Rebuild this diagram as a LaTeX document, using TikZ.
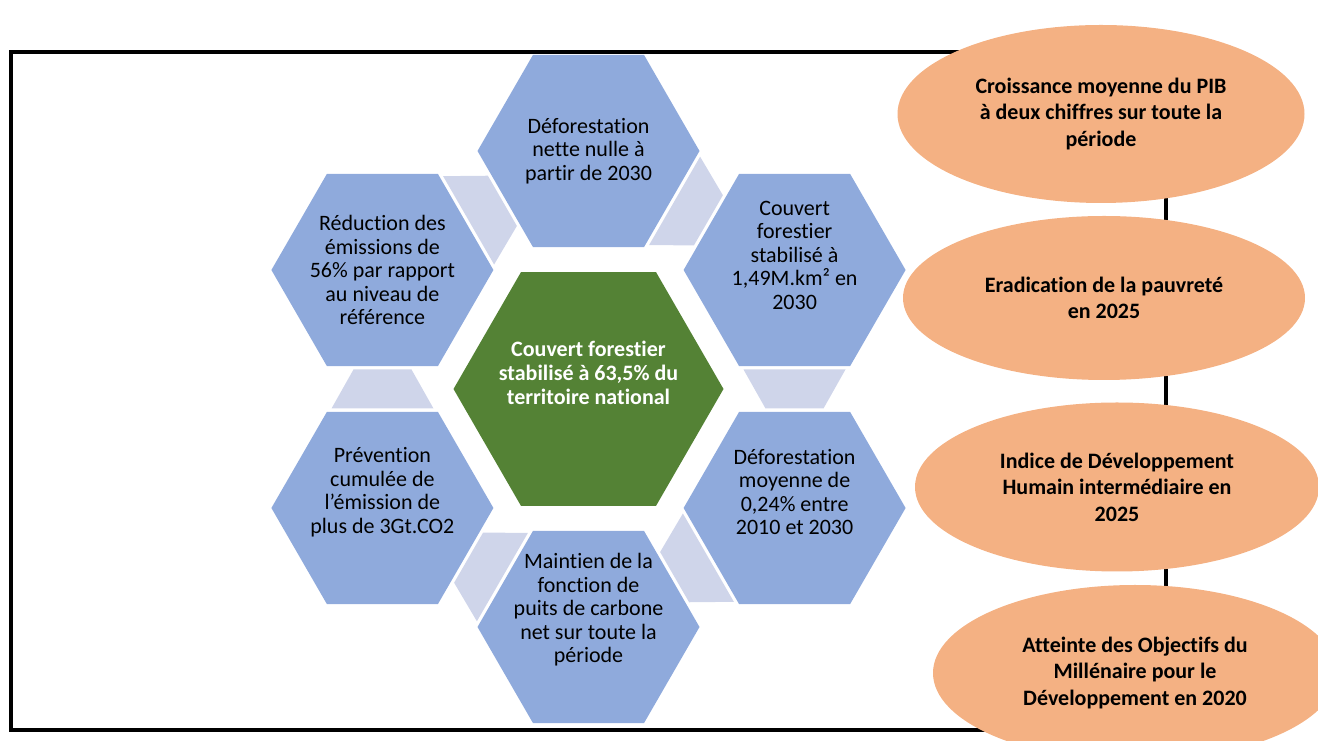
\documentclass[tikz,border=0pt]{standalone}
\usepackage{fontspec}
\setmainfont{Carlito}[Ligatures={NoCommon}]
\usetikzlibrary{shapes.geometric}
\definecolor{hexblue}{HTML}{8FAADC}
\definecolor{linkgray}{HTML}{CFD5EA}
\definecolor{coregreen}{HTML}{548235}
\definecolor{goalorange}{HTML}{F4B183}

\begin{document}
\begin{tikzpicture}[x=1pt,y=1pt,
  hexa/.style={regular polygon,regular polygon sides=6,minimum size=222pt,inner sep=0pt,outer sep=0pt,fill=hexblue},
  hexcore/.style={regular polygon,regular polygon sides=6,minimum size=270pt,inner sep=0pt,outer sep=0pt,fill=coregreen},
  hextext/.style={align=center,font=\fontsize{22}{23.5}\selectfont},
  coretext/.style={align=center,text=white,font=\fontsize{22}{24}\selectfont\bfseries},
  goal/.style={ellipse,fill=goalorange,inner sep=0pt,align=center,font=\fontsize{22}{26.5}\selectfont\bfseries},
  link/.style={fill=linkgray}]
  \useasboundingbox (0,0) rectangle (1318,741);
  \draw[line width=4pt] (11,689) rectangle (1166,11);

  \node[hexcore] (core) at (588.5,352) {};
  \node[hexa] (top) at (588.5,590) {};
  \node[hexa] (ur) at (794.6,471) {};
  \node[hexa] (lr) at (794.6,233) {};
  \node[hexa] (bot) at (588.5,114) {};
  \node[hexa] (ll) at (382.4,233) {};
  \node[hexa] (ul) at (382.4,471) {};

  \foreach \a in {0,60,...,300}
    \fill[link,shift={(588.5,352)},rotate=\a] (177,-19.5) -- (235,-19.5) -- (257,19.5) -- (155,19.5) -- cycle;

  \node[coretext,yshift=16] (coretxt) at (core) {Couvert forestier\\ stabilisé à 63,5\% du\\ territoire national};
  \node[hextext] (toptxt) at (top) {Déforestation\\ nette nulle à\\ partir de 2030};
  \node[hextext,yshift=15] (urtxt) at (ur) {Couvert\\ forestier\\ stabilisé à\\ 1,49M.km² en\\ 2030};
  \node[hextext,yshift=16] (lrtxt) at (lr) {Déforestation\\ moyenne de\\ 0,24\% entre\\ 2010 et 2030};
  \node[hextext,yshift=17] (bottxt) at (bot) {Maintien de la\\ fonction de\\ puits de carbone\\ net sur toute la\\ période};
  \node[hextext,yshift=16] (lltxt) at (ll) {Prévention\\ cumulée de\\ l’émission de\\ plus de 3Gt.CO2};
  \node[hextext] (ultxt) at (ul) {Réduction des\\ émissions de\\ 56\% par rapport\\ au niveau de\\ référence};

  \node[goal,minimum width=407pt,minimum height=178pt] (pib) at (1101,627) {Croissance moyenne du PIB\\ à deux chiffres sur toute la\\ période};
  \node[goal,minimum width=402pt,minimum height=164pt] (pauv) at (1104,443) {Eradication de la pauvreté\\ en 2025};
  \node[goal,minimum width=404pt,minimum height=169pt] (idh) at (1117,254) {Indice de Développement\\ Humain intermédiaire en\\ 2025};
  \node[goal,minimum width=404pt,minimum height=176pt] (omd) at (1135,68) {Atteinte des Objectifs du\\ Millénaire pour le\\ Développement en 2020};
\end{tikzpicture}
\end{document}
